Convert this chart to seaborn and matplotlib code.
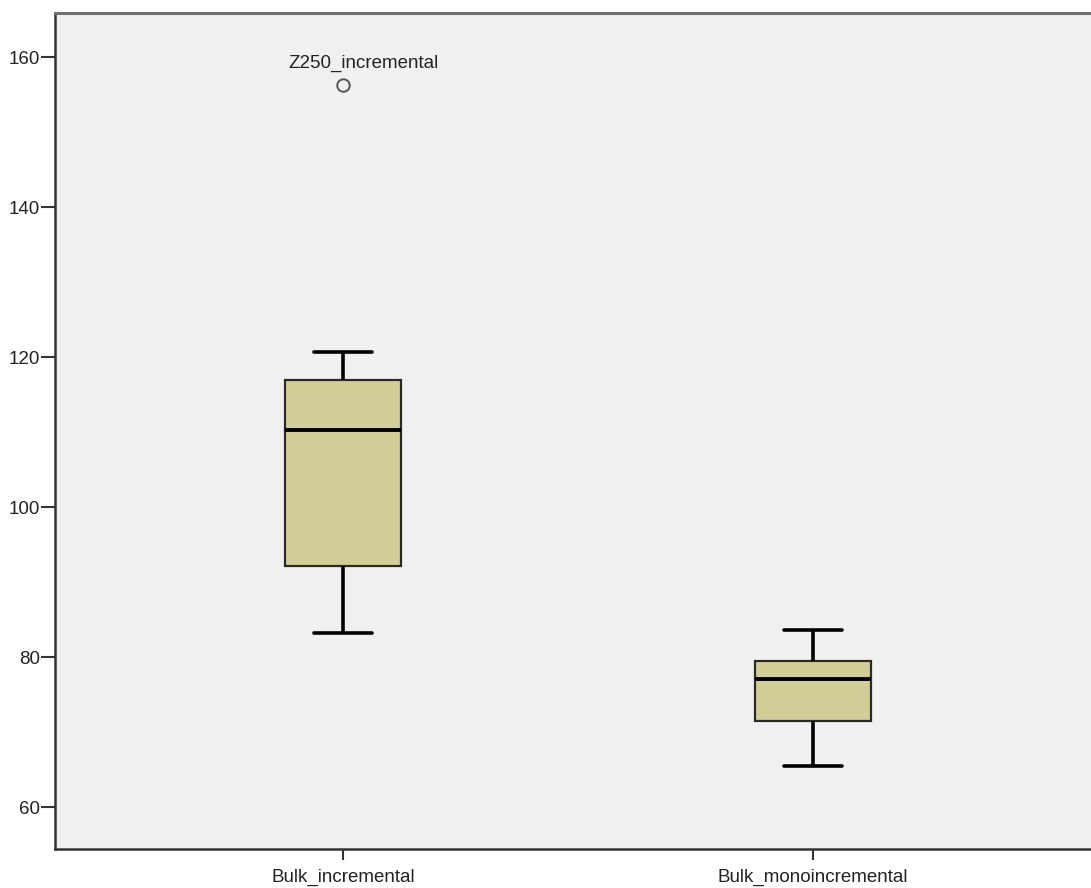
import matplotlib
matplotlib.use("Agg")
import matplotlib.pyplot as plt
import seaborn as sns
import pandas as pd

# Observations per group (sorted)
bulk_incremental = [83.2, 88.0, 92.1, 100.0, 110.3, 114.0, 116.9, 120.7, 156.3]
bulk_monoincremental = [65.5, 68.0, 71.5, 74.0, 77.1, 78.0, 79.5, 81.0, 83.6]
categories = ["Bulk_incremental", "Bulk_monoincremental"]
outlier_label = "Z250_incremental"
y_ticks = [60, 80, 100, 120, 140, 160]

df = pd.DataFrame({
    "group": [categories[0]] * len(bulk_incremental) + [categories[1]] * len(bulk_monoincremental),
    "value": bulk_incremental + bulk_monoincremental,
})

sns.set_theme(style="white")
plt.rcParams["font.family"] = ["Liberation Sans", "DejaVu Sans"]

fig = plt.figure(figsize=(10.91, 8.88), dpi=100)
ax = fig.add_axes([0.0504, 0.0439, 0.9496, 0.9414])
ax.set_facecolor("#F0F0F0")

sns.boxplot(
    data=df, x="group", y="value", order=categories, ax=ax,
    width=0.247, color="#D3CE97", saturation=1, whis=1.5,
    boxprops=dict(edgecolor="#2a2a2a", linewidth=1.6),
    whiskerprops=dict(color="black", linewidth=2.6),
    capprops=dict(color="black", linewidth=2.6),
    medianprops=dict(color="black", linewidth=2.8),
    flierprops=dict(marker="o", markerfacecolor="none", markeredgecolor="#555555",
                    markersize=9, markeredgewidth=1.4),
)

# label the outlying case
out_val = max(bulk_incremental)
ax.text(0.043, out_val + 2.8, outlier_label, ha="center", va="center",
        fontsize=13.5, color="#222222")

ax.set_xlim(-0.613, 1.591)
ax.set_ylim(54.4, 165.87)
ax.set_yticks(y_ticks)
ax.set_yticklabels([str(t) for t in y_ticks])
ax.set_xlabel("")
ax.set_ylabel("")

for side in ["left", "bottom"]:
    ax.spines[side].set_visible(True)
    ax.spines[side].set_color("#333333")
    ax.spines[side].set_linewidth(1.8)
ax.spines["top"].set_visible(True)
ax.spines["top"].set_color("#6f6f6f")
ax.spines["top"].set_linewidth(2.2)
ax.spines["right"].set_visible(False)

ax.tick_params(axis="y", which="major", direction="out", length=10, width=1.5,
               color="#333333", labelsize=13.5, labelcolor="#222222",
               left=True, pad=1)
ax.tick_params(axis="x", which="major", direction="out", length=8, width=1.5,
               color="#333333", labelsize=13.5, labelcolor="#222222",
               bottom=True, pad=6)

fig.savefig("out.png", dpi=100, facecolor="white")
